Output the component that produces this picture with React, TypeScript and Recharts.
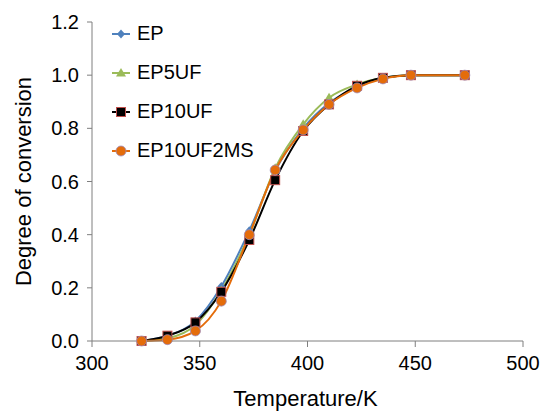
import React from "react";
import { LineChart, Line, XAxis, YAxis, Label } from "recharts";

const temperatures = [323, 335, 348, 360, 373, 385, 398, 410, 423, 435, 448, 473];
const ep = [0, 0.02, 0.075, 0.205, 0.415, 0.64, 0.8, 0.895, 0.955, 0.99, 1.0, 1.0];
const ep5uf = [0, 0.01, 0.06, 0.19, 0.4, 0.65, 0.815, 0.915, 0.965, 0.99, 1.0, 1.0];
const ep10uf = [0, 0.02, 0.07, 0.185, 0.38, 0.605, 0.79, 0.89, 0.96, 0.99, 1.0, 1.0];
const ep10uf2ms = [0, 0.005, 0.038, 0.15, 0.4, 0.643, 0.794, 0.89, 0.952, 0.986, 1.0, 1.0];

const xTicks = [300, 350, 400, 450, 500];
const yTicks = [0, 0.2, 0.4, 0.6, 0.8, 1.0, 1.2];

const data = temperatures.map((t, i) => ({
  t,
  ep: ep[i],
  ep5uf: ep5uf[i],
  ep10uf: ep10uf[i],
  ep10uf2ms: ep10uf2ms[i],
}));

const FONT = "'Liberation Sans', Arial, sans-serif";
const AXIS = "#7f7f7f";

type Shape = "diamond" | "triangle" | "square" | "circle";

const series: { key: string; name: string; color: string; shape: Shape }[] = [
  { key: "ep", name: "EP", color: "#4f81bd", shape: "diamond" },
  { key: "ep5uf", name: "EP5UF", color: "#9bbb59", shape: "triangle" },
  { key: "ep10uf", name: "EP10UF", color: "#000000", shape: "square" },
  { key: "ep10uf2ms", name: "EP10UF2MS", color: "#e46c0a", shape: "circle" },
];

function Marker({ cx, cy, color, shape }: { cx: number; cy: number; color: string; shape: Shape }) {
  if (shape === "diamond") {
    return <path d={`M${cx},${cy - 4.5}L${cx + 4},${cy}L${cx},${cy + 4.5}L${cx - 4},${cy}Z`} fill={color} />;
  }
  if (shape === "triangle") {
    return <path d={`M${cx},${cy - 5}L${cx + 5},${cy + 3.5}L${cx - 5},${cy + 3.5}Z`} fill={color} />;
  }
  if (shape === "square") {
    return <rect x={cx - 4.5} y={cy - 4.5} width={9} height={9} fill={color} stroke="#c0504d" strokeWidth={1} />;
  }
  return <circle cx={cx} cy={cy} r={5} fill={color} stroke="#a08ab8" strokeWidth={0.8} />;
}

// legend drawn as an overlay so it does not take space from the plot
function ChartLegend() {
  return (
    <div style={{ position: "absolute", left: 110, top: 14, fontFamily: FONT, fontSize: 20, color: "#000" }}>
      {series.map((s) => (
        <div key={s.key} style={{ display: "flex", alignItems: "center", height: 39 }}>
          <svg width={22} height={14} style={{ marginRight: 5 }}>
            <line x1={2} y1={7} x2={20} y2={7} stroke={s.color} strokeWidth={2} />
            <Marker cx={11} cy={7} color={s.color} shape={s.shape} />
          </svg>
          <span>{s.name}</span>
        </div>
      ))}
    </div>
  );
}

export default function App() {
  return (
    <div style={{ position: "absolute", left: 0, top: 0, width: 540, height: 412, background: "#fff" }}>
      <LineChart width={540} height={412} data={data} margin={{ top: 22, right: 17, bottom: 41, left: 42 }}>
        <XAxis
          dataKey="t"
          type="number"
          domain={[300, 500]}
          ticks={xTicks}
          height={30}
          stroke={AXIS}
          tickSize={6}
          tickMargin={9}
          tick={{ fill: "#000", fontSize: 20, fontFamily: FONT }}
        >
          <Label
            value="Temperature/K"
            position="insideBottom"
            offset={-35}
            dx={-2}
            style={{ fill: "#000", fontSize: 22, fontFamily: FONT }}
          />
        </XAxis>
        <YAxis
          type="number"
          domain={[0, 1.2]}
          ticks={yTicks}
          width={50}
          stroke={AXIS}
          tickSize={5}
          tickMargin={8}
          tickFormatter={(v: number) => v.toFixed(1)}
          tick={{ fill: "#000", fontSize: 20, fontFamily: FONT }}
        >
          <Label
            value="Degree of conversion"
            angle={-90}
            position="insideLeft"
            offset={-19}
            style={{ fill: "#000", fontSize: 22, fontFamily: FONT, textAnchor: "middle" }}
          />
        </YAxis>
        {series.map((s) => (
          <Line
            key={s.key}
            type="monotone"
            dataKey={s.key}
            name={s.name}
            stroke={s.color}
            strokeWidth={2}
            isAnimationActive={false}
            dot={(p: any) => <Marker key={`${s.key}-${p.index}`} cx={p.cx} cy={p.cy} color={s.color} shape={s.shape} />}
            activeDot={false}
          />
        ))}
      </LineChart>
      <ChartLegend />
    </div>
  );
}
